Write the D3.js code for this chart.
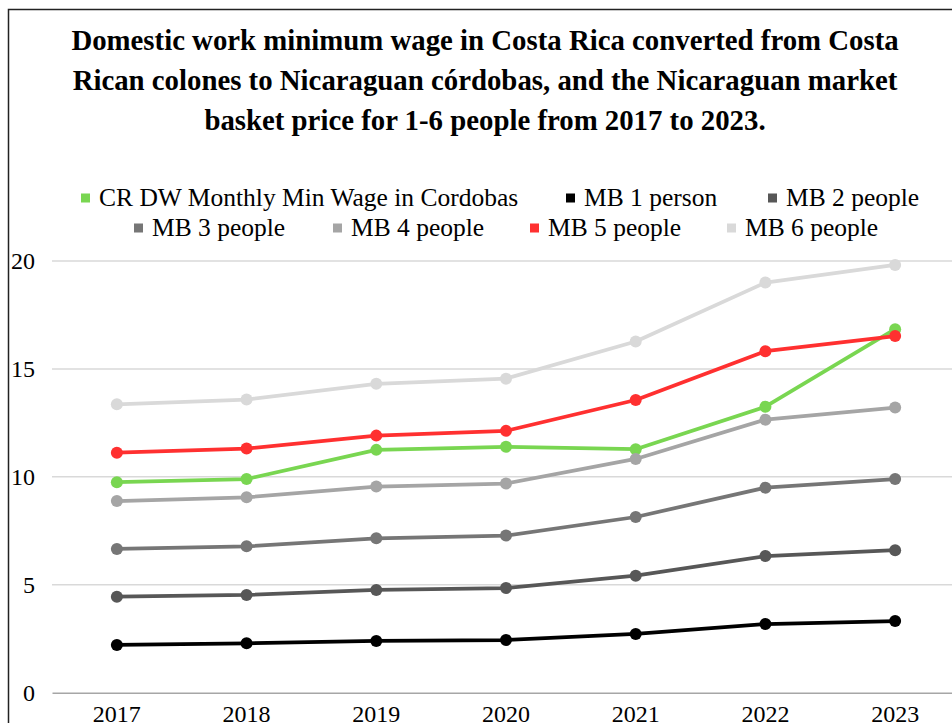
<!DOCTYPE html>
<html>
<head>
<meta charset="utf-8">
<script src="https://cdn.jsdelivr.net/npm/d3@7"></script>
<style>
  html, body { margin: 0; padding: 0; background: #fff; }
  svg { display: block; }
</style>
</head>
<body>
<svg id="chart" width="952" height="723"></svg>
<script>
const years = ["2017", "2018", "2019", "2020", "2021", "2022", "2023"];
const yTicks = [0, 5, 10, 15, 20];
const titleLines = [
  "Domestic work minimum wage in Costa Rica converted from Costa",
  "Rican colones to Nicaraguan córdobas, and the Nicaraguan market",
  "basket price for 1-6 people from 2017 to 2023."
];
const seriesNames = ["CR DW Monthly Min Wage in Cordobas", "MB 1 person", "MB 2 people",
  "MB 3 people", "MB 4 people", "MB 5 people", "MB 6 people"];
const seriesColors = ["#79d651", "#000000", "#575757", "#767676", "#a5a5a5", "#ff3030", "#d9d9d9"];
const wageCR = [9.75, 9.90, 11.25, 11.39, 11.28, 13.25, 16.84];
const mb1 = [2.21, 2.29, 2.40, 2.44, 2.72, 3.18, 3.32];
const mb2 = [4.45, 4.53, 4.76, 4.85, 5.42, 6.33, 6.60];
const mb3 = [6.66, 6.78, 7.15, 7.28, 8.14, 9.50, 9.90];
const mb4 = [8.88, 9.05, 9.55, 9.69, 10.83, 12.65, 13.21];
const mb5 = [11.12, 11.31, 11.91, 12.13, 13.56, 15.82, 16.52];
const mb6 = [13.36, 13.58, 14.31, 14.55, 16.27, 19.00, 19.82];

const seriesValues = [wageCR, mb1, mb2, mb3, mb4, mb5, mb6];
const series = seriesNames.map((n, i) => ({ name: n, color: seriesColors[i], values: seriesValues[i] }));

const FONT = '"Liberation Serif", serif';
const svg = d3.select("#chart");

// outer border
svg.append("rect").attr("x", 8.5).attr("y", 9.5).attr("width", 1000).attr("height", 800)
  .attr("fill", "none").attr("stroke", "#222").attr("stroke-width", 1.5);

// title
svg.append("g").selectAll("text").data(titleLines).join("text")
  .attr("x", 485).attr("y", (d, i) => 50 + i * 40)
  .attr("text-anchor", "middle")
  .style("font-family", FONT).style("font-weight", "bold").style("font-size", "28.8px")
  .attr("fill", "#000").text(d => d);

const x = d3.scaleBand().domain(years).range([52, 960]);
const y = d3.scaleLinear().domain([0, 20]).range([692.7, 261]);
const cx = d => x(d) + x.bandwidth() / 2;

// gridlines
svg.append("g").selectAll("line").data(yTicks.filter(t => t > 0)).join("line")
  .attr("x1", 52).attr("x2", 960)
  .attr("y1", d => y(d)).attr("y2", d => y(d))
  .attr("stroke", "#d9d9d9").attr("stroke-width", 1.5);

// y axis labels
const yAxis = d3.axisLeft(y).tickValues(yTicks).tickSize(0).tickPadding(0).tickFormat(d3.format("d"));
const yg = svg.append("g").attr("transform", "translate(35,0)").call(yAxis);
yg.select(".domain").remove();
yg.selectAll("text").style("font-family", FONT).style("font-size", "24px").attr("fill", "#000");

// x axis
const xAxis = d3.axisBottom(x).tickSize(0).tickPadding(0);
const xg = svg.append("g").attr("transform", `translate(0,${y(0)})`).call(xAxis);
xg.select(".domain").attr("stroke", "#a6a6a6").attr("stroke-width", 1.5);
xg.selectAll("text").style("font-family", FONT).style("font-size", "24px").attr("fill", "#000")
  .attr("dy", null).attr("y", 29);

// lines
const line = d3.line().x((d, i) => cx(years[i])).y(d => y(d));
const sg = svg.append("g").selectAll("g").data(series).join("g");
sg.append("path").attr("d", d => line(d.values))
  .attr("fill", "none").attr("stroke", d => d.color).attr("stroke-width", 3.75)
  .attr("stroke-linejoin", "round");
sg.selectAll("circle").data(d => d.values.map((v, i) => ({ v, i, color: d.color }))).join("circle")
  .attr("cx", d => cx(years[d.i])).attr("cy", d => y(d.v)).attr("r", 6)
  .attr("fill", d => d.color);

// legend
const legendRows = [
  { y: 198, items: [0, 1, 2], xs: [81, 566, 768] },
  { y: 228, items: [3, 4, 5, 6], xs: [134, 333, 530, 727] }
];
legendRows.forEach(row => {
  row.items.forEach((si, k) => {
    const g = svg.append("g").attr("transform", `translate(${row.xs[k]},${row.y})`);
    g.append("rect").attr("x", 0).attr("y", -4.5).attr("width", 9).attr("height", 9)
      .attr("fill", series[si].color);
    g.append("text").attr("x", 18).attr("y", 8)
      .style("font-family", FONT).style("font-size", "25.5px")
      .attr("fill", "#000").text(series[si].name);
  });
});
</script>
</body>
</html>
